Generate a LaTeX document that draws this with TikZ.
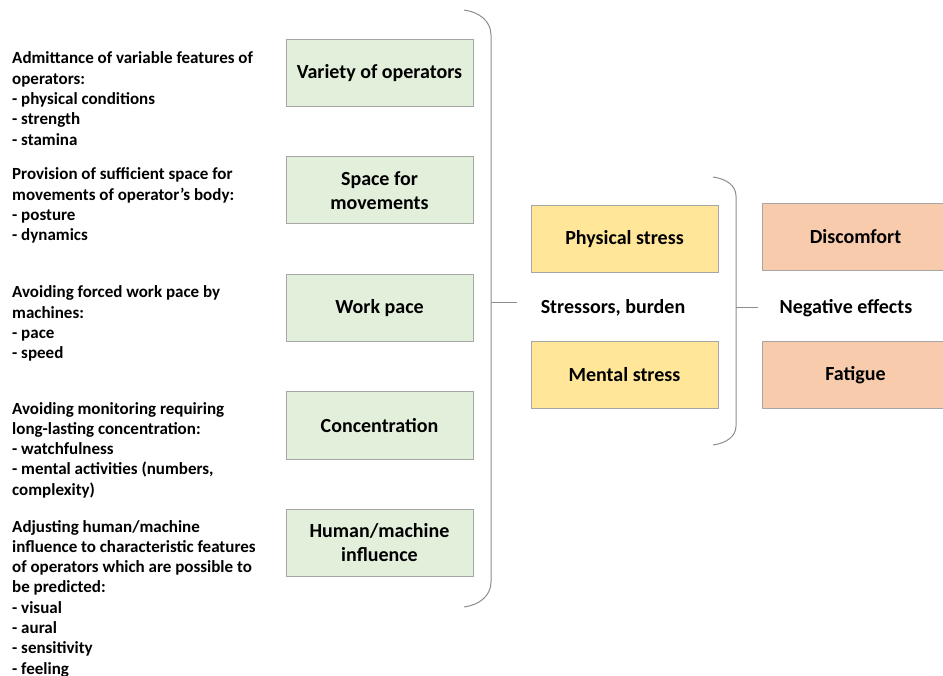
\documentclass[tikz,border=0pt]{standalone}
\usepackage{fontspec}
\setmainfont{Carlito}
\definecolor{gfill}{HTML}{E2EFDA}
\definecolor{yfill}{HTML}{FFE699}
\definecolor{ofill}{HTML}{F8CBAD}
\definecolor{bord}{HTML}{A6A6A6}
\definecolor{brc}{HTML}{8C8C8C}
\tikzset{
  box/.style={draw=bord, line width=1pt, minimum width=187pt, minimum height=67pt, inner sep=2pt, align=center, font=\fontsize{20}{24.4}\selectfont\bfseries},
  gbox/.style={box, fill=gfill},
  ybox/.style={box, fill=yfill},
  obox/.style={box, fill=ofill},
  lbl/.style={inner sep=0pt, font=\fontsize{20}{24.4}\selectfont\bfseries},
  note/.style={anchor=base west, inner sep=0pt, font=\fontsize{17}{20.3}\selectfont\bfseries},
  brace/.style={draw=brc, line width=1pt}
}
\newcommand{\notetext}[1]{\parbox[t]{270pt}{\raggedright\baselineskip=20.3pt #1}}
\begin{document}
\begin{tikzpicture}[x=1pt,y=-1pt]
\useasboundingbox (0,0) rectangle (943,676);
% left notes
\node[note] (n1) at (12,64) {\notetext{Admittance of variable features of\\operators:\\- physical conditions\\- strength\\- stamina}};
\node[note] (n2) at (12,180) {\notetext{Provision of sufficient space for\\movements of operator’s body:\\- posture\\- dynamics}};
\node[note] (n3) at (12,298) {\notetext{Avoiding forced work pace by\\machines:\\- pace\\- speed}};
\node[note] (n4) at (12,414) {\notetext{Avoiding monitoring requiring\\long-lasting concentration:\\- watchfulness\\- mental activities (numbers,\\complexity)}};
\node[note] (n5) at (12,532) {\notetext{Adjusting human/machine\\influence to characteristic features\\of operators which are possible to\\be predicted:\\- visual\\- aural\\- sensitivity\\- feeling}};
% green boxes
\node[gbox] (g1) at (379.5,73.5) {Variety of operators};
\node[gbox] (g2) at (379.5,190.5) {Space for\\movements};
\node[gbox] (g3) at (379.5,308.5) {Work pace};
\node[gbox] (g4) at (379.5,425.5) {Concentration};
\node[gbox] (g5) at (379.5,542.5) {Human/machine\\influence};
% brace 1
\coordinate (b1t) at (464,10);
\coordinate (b1b) at (464,607);
\coordinate (b1m) at (491,303);
\coordinate (b1e) at (517,303);
\draw[brace] (b1t) .. controls (479,12) and (491,21) .. (491,35) -- (491,582) .. controls (491,596) and (479,605) .. (b1b);
\draw[brace] (b1m) -- (b1e);
% middle
\node[ybox] (y1) at (624.5,239.5) {Physical stress};
\node[ybox] (y2) at (624.5,375) {Mental stress};
\node[lbl] (s) at (613,308) {Stressors, burden};
% brace 2
\coordinate (b2t) at (713,177);
\coordinate (b2b) at (713,445);
\coordinate (b2m) at (736,308);
\coordinate (b2e) at (758,308);
\draw[brace] (b2t) .. controls (727,179) and (736,186) .. (736,196) -- (736,426) .. controls (736,436) and (727,443) .. (b2b);
\draw[brace] (b2m) -- (b2e);
% right
\node[obox] (o1) at (855.5,237) {Discomfort};
\node[obox] (o2) at (855.5,375) {Fatigue};
\node[lbl] (ne) at (846,308) {Negative effects};
\end{tikzpicture}
\end{document}
